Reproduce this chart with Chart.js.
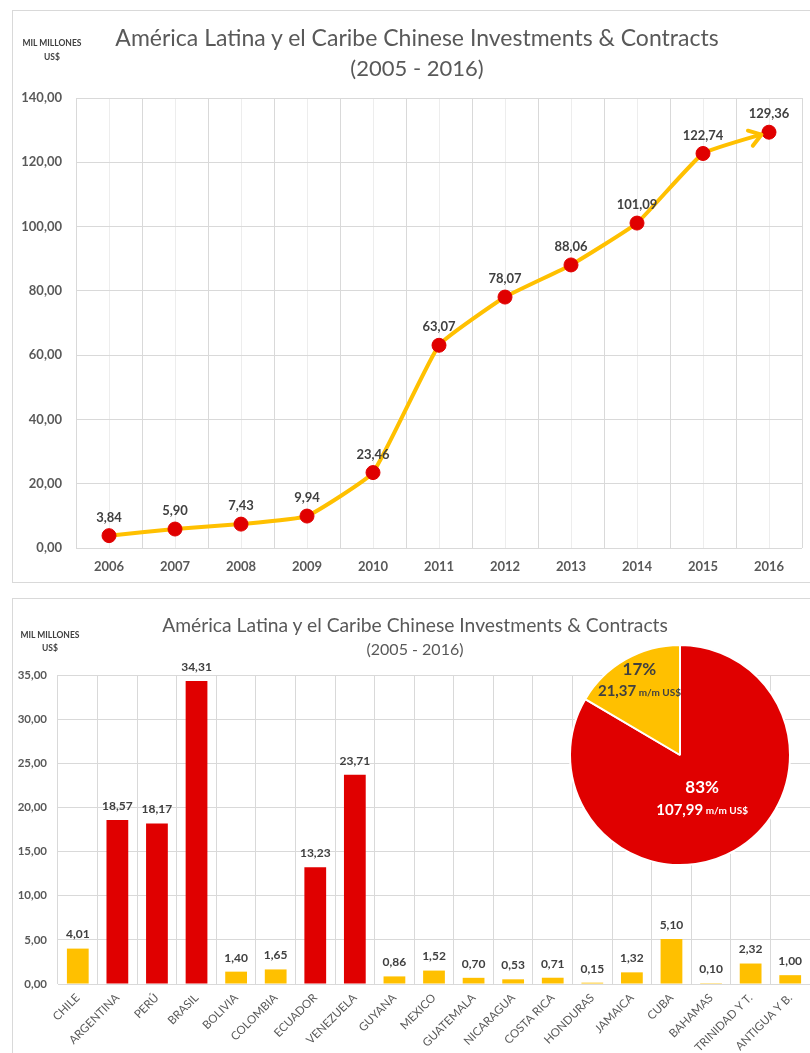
<!DOCTYPE html>
<html>
<head>
<meta charset="utf-8">
<script src="https://cdn.jsdelivr.net/npm/chart.js@4.4.1/dist/chart.umd.min.js"></script>
<style>
  body {
    margin: 0;
    width: 810px;
    height: 1053px;
    overflow: hidden;
    background: #fff;
    font-family: Lato, "Open Sans", sans-serif;
    position: relative;
  }
  .box {
    position: absolute;
    left: 12px;
    width: 798px;
    border: 1px solid #d9d9d9;
    border-right: none;
  }
  #topBox { top: 10px; height: 571px; }
  #barBox { top: 598px; height: 460px; border-bottom: none; }
  .box canvas { position: absolute; left: 0; top: 0; }
  .lbl {
    position: absolute;
    color: #595959;
    white-space: nowrap;
    transform: translate(-50%, -50%);
  }
  .unit { font-size: 8.5px; font-weight: bold; color: #404040; }
  #pieCanvas { position: absolute; left: 569px; top: 644px; }
</style>
</head>
<body>

<div class="box" id="topBox"><canvas id="lineCanvas" width="797" height="571"></canvas></div>
<div class="box" id="barBox"><canvas id="barCanvas" width="797" height="460"></canvas></div>
<canvas id="pieCanvas" width="222" height="222"></canvas>

<div class="lbl" style="left:417px; top:37px; font-size:23px;">América Latina y el Caribe Chinese Investments &amp; Contracts</div>
<div class="lbl" style="left:417px; top:67px; font-size:22px;">(2005 - 2016)</div>
<div class="lbl unit" style="left:52px; top:43px;">MIL MILLONES</div>
<div class="lbl unit" style="left:52px; top:57px;">US$</div>

<div class="lbl" style="left:415px; top:624px; font-size:19.3px;">América Latina y el Caribe Chinese Investments &amp; Contracts</div>
<div class="lbl" style="left:415px; top:648px; font-size:16px;">(2005 - 2016)</div>
<div class="lbl unit" style="left:50px; top:635px;">MIL MILLONES</div>
<div class="lbl unit" style="left:50px; top:648px;">US$</div>

<script>
/* ================================
   Data
================================ */
const years = ["2006", "2007", "2008", "2009", "2010", "2011", "2012", "2013", "2014", "2015", "2016"];
const cumulative = [3.84, 5.90, 7.43, 9.94, 23.46, 63.07, 78.07, 88.06, 101.09, 122.74, 129.36];

const countries = [
  "CHILE", "ARGENTINA", "PERÚ", "BRASIL", "BOLIVIA", "COLOMBIA", "ECUADOR",
  "VENEZUELA", "GUYANA", "MEXICO", "GUATEMALA", "NICARAGUA", "COSTA RICA",
  "HONDURAS", "JAMAICA", "CUBA", "BAHAMAS", "TRINIDAD Y T.", "ANTIGUA Y B."
];
const countryValues = [4.01, 18.57, 18.17, 34.31, 1.40, 1.65, 13.23, 23.71, 0.86, 1.52, 0.70, 0.53, 0.71, 0.15, 1.32, 5.10, 0.10, 2.32, 1.00];
const topCountries = ["ARGENTINA", "PERÚ", "BRASIL", "ECUADOR", "VENEZUELA"];

// share of the five main recipients vs the rest (m/m US$)
const shareValues = [107.99, 21.37];

/* ================================
   Style
================================ */
const FONT = 'Lato, "Open Sans", sans-serif';
const RED = "#e00000";
const YELLOW = "#ffc000";
const GRID = "#d9d9d9";
const TICK = "#595959";
const LABEL = "#404040";

const fmt = v => Number(v).toFixed(2).replace(".", ",");

/* ================================
   Plugins
================================ */
function valueLabels(gap, size) {
  return {
    id: "valueLabels",
    afterDatasetsDraw(chart) {
      const ctx = chart.ctx;
      const data = chart.data.datasets[0].data;
      ctx.save();
      ctx.font = `bold ${size}px ${FONT}`;
      ctx.fillStyle = LABEL;
      ctx.textAlign = "center";
      ctx.textBaseline = "middle";
      chart.getDatasetMeta(0).data.forEach((el, i) => {
        ctx.fillText(fmt(data[i]), el.x, el.y - gap);
      });
      ctx.restore();
    }
  };
}

// open arrow head at the end of the line
const arrowHead = {
  id: "arrowHead",
  afterDatasetsDraw(chart) {
    const pts = chart.getDatasetMeta(0).data;
    const a = pts[pts.length - 2];
    const b = pts[pts.length - 1];
    const ang = Math.atan2(b.y - a.y, b.x - a.x);
    const r = 8;
    const tx = b.x - Math.cos(ang) * r;
    const ty = b.y - Math.sin(ang) * r;
    const len = 14;
    const ctx = chart.ctx;
    ctx.save();
    ctx.strokeStyle = YELLOW;
    ctx.lineWidth = 4;
    ctx.lineCap = "round";
    ctx.lineJoin = "round";
    ctx.beginPath();
    ctx.moveTo(tx - Math.cos(ang - 0.6) * len, ty - Math.sin(ang - 0.6) * len);
    ctx.lineTo(tx, ty);
    ctx.lineTo(tx - Math.cos(ang + 0.6) * len, ty - Math.sin(ang + 0.6) * len);
    ctx.stroke();
    ctx.restore();
  }
};

/* ================================
   Line Chart (cumulative)
================================ */
new Chart(document.getElementById("lineCanvas"), {
  type: "line",
  data: {
    labels: years,
    datasets: [{
      data: cumulative,
      borderColor: YELLOW,
      borderWidth: 4,
      tension: 0.12,
      pointRadius: 7,
      pointBackgroundColor: RED,
      pointBorderColor: RED,
      pointBorderWidth: 1
    }]
  },
  options: {
    responsive: false,
    animation: false,
    layout: { padding: { top: 87, right: 4, bottom: 0, left: 0 } },
    plugins: { legend: { display: false }, tooltip: { enabled: false } },
    scales: {
      x: {
        offset: true,
        grid: { offset: true, color: GRID, drawTicks: false },
        border: { display: false },
        ticks: { color: TICK, font: { family: FONT, size: 13, weight: "bold" }, padding: 11, maxRotation: 0 },
        afterFit: s => { s.height = 34; }
      },
      xMid: {
        type: "category",
        position: "bottom",
        offset: true,
        grid: { offset: false, color: "#ededed", drawTicks: false },
        border: { display: false },
        ticks: { display: false },
        afterFit: s => { s.height = 0; }
      },
      y: {
        min: 0,
        max: 140,
        ticks: { stepSize: 20, callback: fmt, color: TICK, font: { family: FONT, size: 13, weight: "bold" }, padding: 14 },
        grid: { color: GRID, drawTicks: false },
        border: { display: false },
        afterFit: s => { s.width = 63; }
      }
    }
  },
  plugins: [arrowHead, valueLabels(18, 13)]
});

/* ================================
   Bar Chart (by country)
================================ */
new Chart(document.getElementById("barCanvas"), {
  type: "bar",
  data: {
    labels: countries,
    datasets: [{
      data: countryValues,
      backgroundColor: countries.map(c => topCountries.includes(c) ? RED : YELLOW),
      barPercentage: 0.55,
      categoryPercentage: 1
    }]
  },
  options: {
    responsive: false,
    animation: false,
    layout: { padding: { top: 76, right: 0, bottom: 6, left: 0 } },
    plugins: { legend: { display: false }, tooltip: { enabled: false } },
    scales: {
      x: {
        grid: { offset: true, color: GRID, drawTicks: false },
        border: { display: false },
        ticks: {
          color: TICK, font: { family: FONT, size: 11.5 },
          minRotation: 45, maxRotation: 45, autoSkip: false, padding: 7
        },
        afterFit: s => { s.height = 69; }
      },
      y: {
        min: 0,
        max: 35,
        ticks: { stepSize: 5, callback: fmt, color: TICK, font: { family: FONT, size: 11.5, weight: "bold" }, padding: 11 },
        grid: { color: GRID, drawTicks: false },
        border: { display: false },
        afterFit: s => { s.width = 45; }
      }
    }
  },
  plugins: [valueLabels(14, 12)]
});

/* ================================
   Pie (top five vs rest)
================================ */
const pieText = {
  id: "pieText",
  afterDatasetsDraw(chart) {
    const ctx = chart.ctx;
    const total = shareValues.reduce((a, b) => a + b, 0);
    const reach = [0.46, 0.78];
    const colors = ["#ffffff", LABEL];
    chart.getDatasetMeta(0).data.forEach((arc, i) => {
      const mid = (arc.startAngle + arc.endAngle) / 2;
      const r = arc.outerRadius * reach[i];
      const cx = arc.x + Math.cos(mid) * r - (i === 0 ? 3 : -2);
      const cy = arc.y + Math.sin(mid) * r;
      const pct = Math.round(shareValues[i] / total * 100) + "%";
      ctx.save();
      ctx.fillStyle = colors[i];
      ctx.textBaseline = "middle";
      ctx.textAlign = "center";
      ctx.font = `bold 17px ${FONT}`;
      ctx.fillText(pct, cx, cy - 11);

      const num = fmt(shareValues[i]);
      const unit = " m/m US$";
      ctx.font = `bold 15px ${FONT}`;
      const w1 = ctx.measureText(num).width;
      ctx.font = `bold 10px ${FONT}`;
      const w2 = ctx.measureText(unit).width;
      const x0 = cx - (w1 + w2) / 2;
      ctx.textAlign = "left";
      ctx.font = `bold 15px ${FONT}`;
      ctx.fillText(num, x0, cy + 11);
      ctx.font = `bold 10px ${FONT}`;
      ctx.fillText(unit, x0 + w1, cy + 12);
      ctx.restore();
    });
  }
};

new Chart(document.getElementById("pieCanvas"), {
  type: "pie",
  data: {
    labels: ["Principales", "Resto"],
    datasets: [{
      data: shareValues,
      backgroundColor: [RED, YELLOW],
      borderColor: "#ffffff",
      borderWidth: 2
    }]
  },
  options: {
    responsive: false,
    animation: false,
    plugins: { legend: { display: false }, tooltip: { enabled: false } }
  },
  plugins: [pieText]
});
</script>
</body>
</html>
